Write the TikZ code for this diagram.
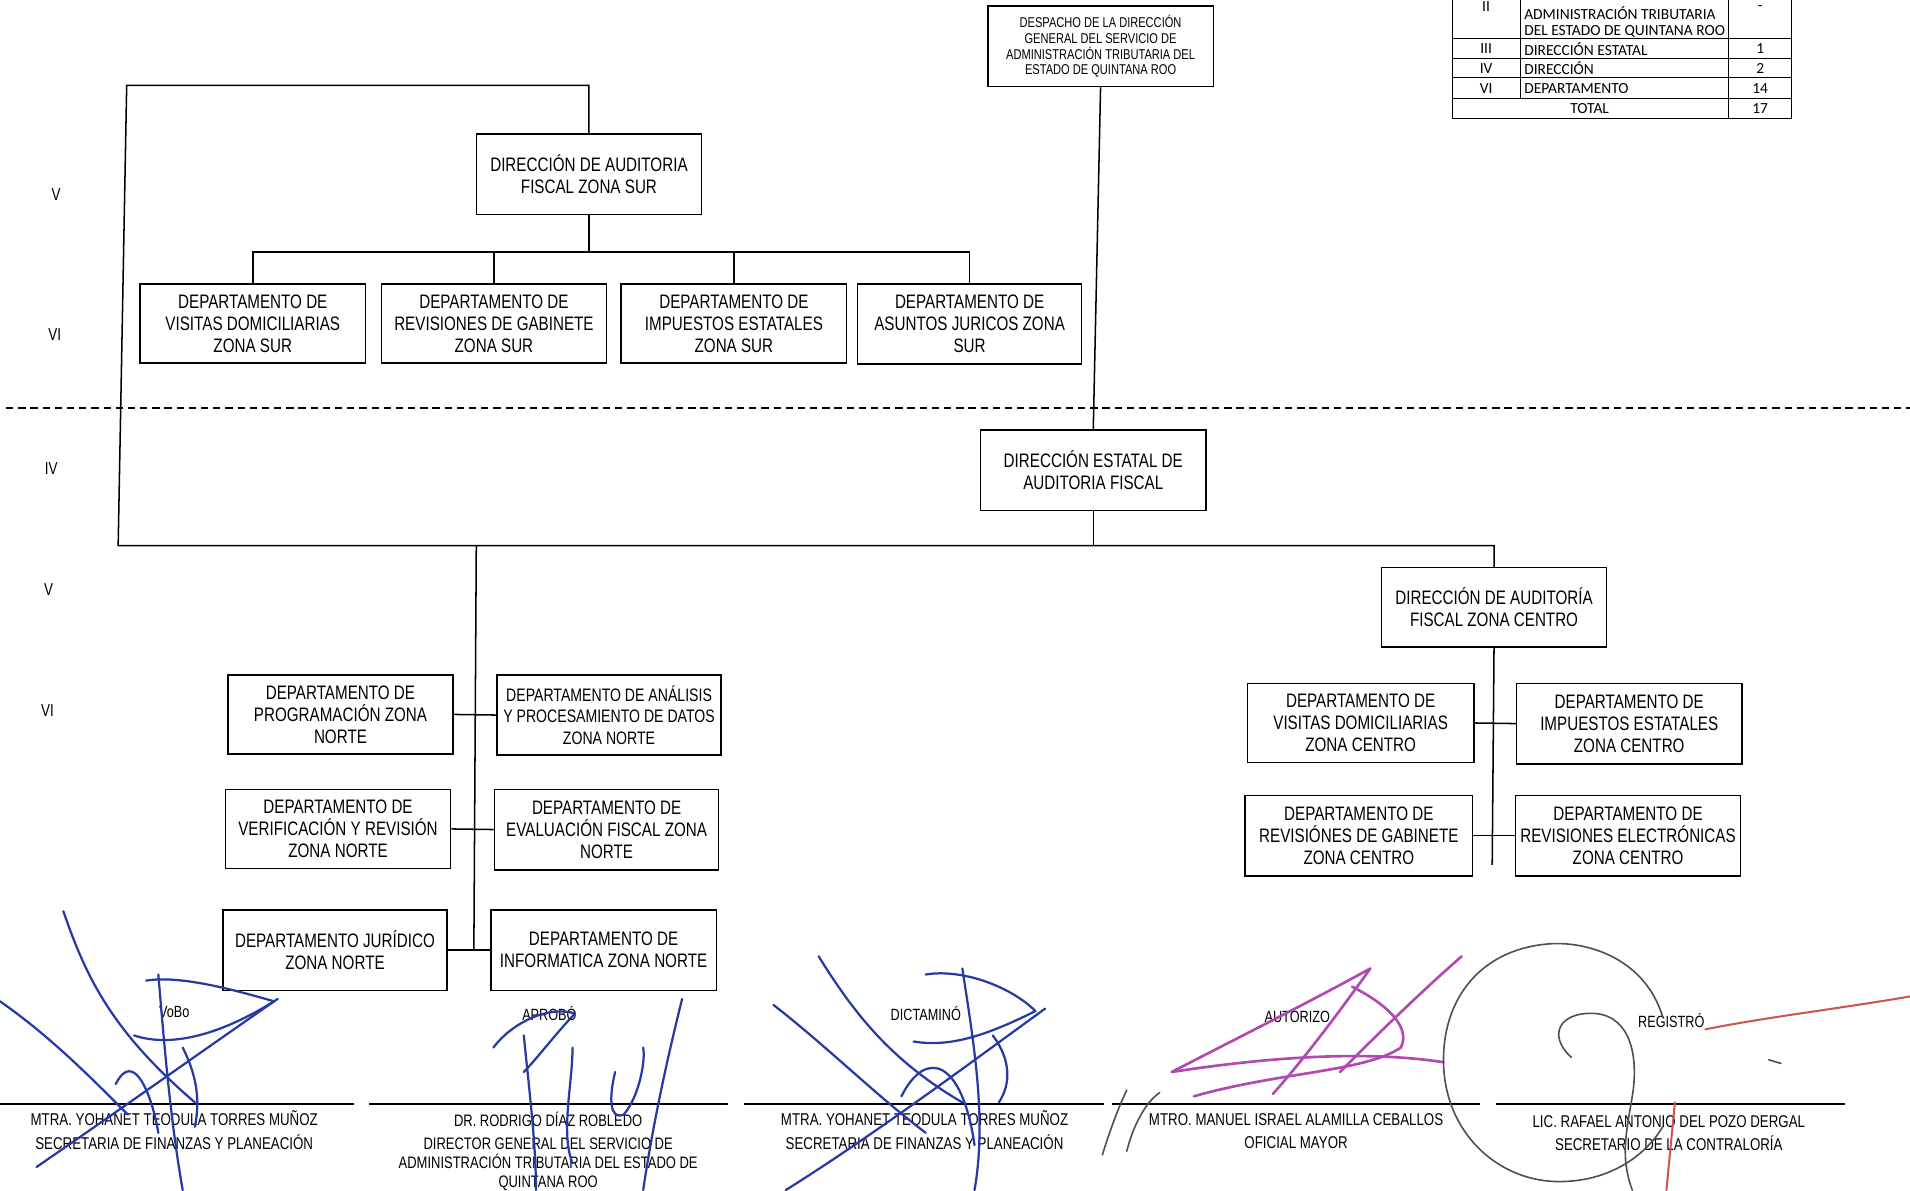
\documentclass[tikz,border=0pt]{standalone}
\usepackage{fontspec}
\setmainfont{Liberation Sans}[FakeStretch=0.78]
\newfontfamily\tabfont{Carlito}
\definecolor{sigblue}{RGB}{38,58,165}
\definecolor{sigmag}{RGB}{178,72,178}
\definecolor{siggray}{RGB}{80,80,80}
\definecolor{sigred}{RGB}{205,85,75}
\newcommand\bx[6]{\node[box, minimum width={(#4-#2)*0.6pt}, minimum height={(#5-#3)*0.6pt}] (#1) at ({(#2+#4)/2},{(#3+#5)/2}) {#6};}
\begin{document}
\begin{tikzpicture}[x=0.6pt,y=-0.6pt,
  box/.style={draw, line width=0.75pt, inner sep=0pt, align=center, font=\fontsize{9.6}{10.8}\selectfont},
  conn/.style={line width=0.75pt},
  lvl/.style={font=\fontsize{8.5}{10}\selectfont},
  sigtxt/.style={font=\fontsize{8.4}{11.5}\selectfont, align=center},
  sigttl/.style={font=\fontsize{8}{9}\selectfont},
  tab/.style={line width=0.5pt},
  tabtxt/.style={font=\tabfont\fontsize{7.6}{8}\selectfont, inner sep=0pt},
  bl/.style={draw=sigblue, line width=1.1pt, line cap=round, line join=round},
  mg/.style={draw=sigmag, line width=1.3pt, line cap=round, line join=round},
  gy/.style={draw=siggray, line width=0.8pt, line cap=round, line join=round},
  rd/.style={draw=sigred, line width=1pt, line cap=round, line join=round}]
\useasboundingbox (0,0) rectangle (1568,977);

% ---------- table ----------
\draw[tab] (1192,-20) -- (1192,97) -- (1471,97) -- (1471,-20);
\foreach \yy in {32,48,64,81} \draw[tab] (1192,\yy) -- (1471,\yy);
\draw[tab] (1248,-20) -- (1248,81);
\draw[tab] (1419,-20) -- (1419,97);
\node[tabtxt] (t2a) at (1220,5) {II};
\node[tabtxt] (t2c) at (1445,7) {-};
\node[tabtxt, anchor=west] (t2b) at (1251,11) {ADMINISTRACIÓN TRIBUTARIA};
\node[tabtxt, anchor=west] (t2d) at (1251,26) {DEL ESTADO DE QUINTANA ROO};
\node[tabtxt] (t3a) at (1220,40) {III};
\node[tabtxt, anchor=west] (t3b) at (1251,40) {DIRECCIÓN ESTATAL};
\node[tabtxt] (t3c) at (1445,40) {1};
\node[tabtxt] (t4a) at (1220,56) {IV};
\node[tabtxt, anchor=west] (t4b) at (1251,56) {DIRECCIÓN};
\node[tabtxt] (t4c) at (1445,56) {2};
\node[tabtxt] (t5a) at (1220,72.5) {VI};
\node[tabtxt, anchor=west] (t5b) at (1251,72.5) {DEPARTAMENTO};
\node[tabtxt] (t5c) at (1445,72.5) {14};
\node[tabtxt] (t6a) at (1305,89) {TOTAL};
\node[tabtxt] (t6c) at (1445,89) {17};

% ---------- level labels ----------
\node[lvl] (l1) at (46,160) {V};
\node[lvl] (l2) at (45,275) {VI};
\node[lvl] (l3) at (42,385) {IV};
\node[lvl] (l4) at (40,484) {V};
\node[lvl] (l5) at (39,583) {VI};

% ---------- dashed separator ----------
\draw[line width=0.7pt, dash pattern=on 3.6pt off 2.4pt] (5,335) -- (1568,335);

% ---------- boxes ----------
\node[draw, line width=0.75pt, inner sep=0pt, align=center, font=\fontsize{7}{7.8}\selectfont,
      minimum width={185*0.6pt}, minimum height={66*0.6pt}] (desp) at (903.5,38)
  {DESPACHO DE LA DIRECCIÓN\\GENERAL DEL SERVICIO DE\\ADMINISTRACIÓN TRIBUTARIA DEL\\ESTADO DE QUINTANA ROO};

\bx{sur}{391}{110}{576}{176}{DIRECCIÓN DE AUDITORIA\\FISCAL ZONA SUR}
\bx{s1}{115}{233}{300}{298}{DEPARTAMENTO DE\\VISITAS DOMICILIARIAS\\ZONA SUR}
\bx{s2}{313}{233}{498}{298}{DEPARTAMENTO DE\\REVISIONES DE GABINETE\\ZONA SUR}
\bx{s3}{510}{233}{695}{298}{DEPARTAMENTO DE\\IMPUESTOS ESTATALES\\ZONA SUR}
\bx{s4}{704}{233}{888}{299}{DEPARTAMENTO DE\\ASUNTOS JURICOS ZONA\\SUR}

\bx{est}{805}{353}{990}{419}{DIRECCIÓN ESTATAL DE\\AUDITORIA FISCAL}
\bx{cen}{1134}{466}{1319}{531}{DIRECCIÓN DE AUDITORÍA\\FISCAL ZONA CENTRO}

\bx{c1}{1024}{561}{1210}{626}{DEPARTAMENTO DE\\VISITAS DOMICILIARIAS\\ZONA CENTRO}
\bx{c2}{1245}{561}{1430}{627}{DEPARTAMENTO DE\\IMPUESTOS ESTATALES\\ZONA CENTRO}
\bx{c3}{1022}{653}{1209}{719}{DEPARTAMENTO DE\\REVISIÓNES DE GABINETE\\ZONA CENTRO}
\bx{c4}{1244}{653}{1429}{719}{DEPARTAMENTO DE\\REVISIONES ELECTRÓNICAS\\ZONA CENTRO}

\bx{n1}{187}{554}{372}{619}{DEPARTAMENTO DE\\PROGRAMACIÓN ZONA\\NORTE}
\node[box, font=\fontsize{8.9}{10.5}\selectfont, minimum width={184*0.6pt}, minimum height={66*0.6pt}] (n2) at (500,587)
  {DEPARTAMENTO DE ANÁLISIS\\Y PROCESAMIENTO DE DATOS\\ZONA NORTE};
\bx{n3}{185}{648}{370}{713}{DEPARTAMENTO DE\\VERIFICACIÓN Y REVISIÓN\\ZONA NORTE}
\bx{n4}{406}{648}{590}{714}{DEPARTAMENTO DE\\EVALUACIÓN FISCAL ZONA\\NORTE}
\bx{n5}{183}{747}{367}{813}{DEPARTAMENTO JURÍDICO\\ZONA NORTE}
\bx{n6}{403}{747}{588}{813}{DEPARTAMENTO DE\\INFORMATICA ZONA NORTE}

% ---------- connectors ----------
\coordinate (busS) at (483.5,207);
\draw[conn] (sur.south) -- (busS);
\draw[conn] (s1.north) |- (busS);
\draw[conn] (s4.north) |- (busS);
\draw[conn] (s2.north) -- (s2.north |- busS);
\draw[conn] (s3.north) -- (s3.north |- busS);

\coordinate (lt) at (104,70);
\coordinate (lb) at (97,448);
\draw[conn] (sur.north) |- (lt) -- (lb) -| (cen.north);
\draw[conn] (desp.south) -- (est.north);
\draw[conn] (est.south) -- (est.south |- lb);

\coordinate (nend) at (389,780);
\draw[conn] (lb -| 391,0) -- (nend);
\draw[conn] (n1.east) -- (n2.west);
\draw[conn] (n3.east) -- (n4.west);
\draw[conn] (n5.east) -- (n6.west);

\coordinate (cend) at (1225,710);
\draw[conn] (cen.south) -- (cend);
\draw[conn] (c1.east) -- (c2.west);
\draw[conn] (c3.east) -- (c4.west);

% ---------- signature block ----------
\foreach \a/\b in {0/291, 303/598, 611/906, 913/1215, 1228/1515}
  \draw[line width=1.1pt] (\a,906) -- (\b,906);

\node[sigttl] (v1) at (143,831) {VoBo};
\node[sigttl] (v2) at (451,832) {APROBÓ};
\node[sigttl] (v3) at (760,832) {DICTAMINÓ};
\node[sigttl] (v4) at (1065,835) {AUTORIZO};
\node[sigttl] (v5) at (1372,838) {REGISTRÓ};

\node[sigtxt, anchor=north] (p1) at (143,906) {MTRA. YOHANET TEODULA TORRES MUÑOZ\\SECRETARIA DE FINANZAS Y PLANEACIÓN};
\node[sigtxt, anchor=north, font=\fontsize{8.2}{9.4}\selectfont] (p2) at (450,907) {DR. RODRIGO DÍAZ ROBLEDO\\[1.8pt]DIRECTOR GENERAL DEL SERVICIO DE\\ADMINISTRACIÓN TRIBUTARIA DEL ESTADO DE\\QUINTANA ROO};
\node[sigtxt, anchor=north] (p3) at (759,906) {MTRA. YOHANET TEODULA TORRES MUÑOZ\\SECRETARIA DE FINANZAS Y PLANEACIÓN};
\node[sigtxt, anchor=north] (p4) at (1064,908) {MTRO. MANUEL ISRAEL ALAMILLA CEBALLOS\\OFICIAL MAYOR};
\node[sigtxt, anchor=north] (p5) at (1370,910) {LIC. RAFAEL ANTONIO DEL POZO DERGAL\\SECRETARIO DE LA CONTRALORÍA};

% ---------- handwritten signatures (approximate) ----------
% 1
\draw[bl] (52,748) .. controls (70,800) and (90,845) .. (160,905);
\draw[bl] (0,822) .. controls (40,850) and (70,880) .. (105,915);
\draw[bl] (30,958) .. controls (100,910) and (170,860) .. (228,820);
\draw[bl] (120,805) .. controls (150,800) and (200,815) .. (225,822) .. controls (180,850) and (140,860) .. (110,850);
\draw[bl] (130,800) .. controls (135,860) and (140,920) .. (150,977);
\draw[bl] (95,890) .. controls (110,860) and (125,900) .. (130,930);
\draw[bl] (150,860) .. controls (160,880) and (165,900) .. (160,925);
% 2
\draw[bl] (405,860) .. controls (420,840) and (450,825) .. (472,832) .. controls (455,850) and (440,870) .. (430,880);
\draw[bl] (430,850) .. controls (435,900) and (440,940) .. (440,977);
\draw[bl] (470,860) .. controls (470,890) and (460,930) .. (470,955);
\draw[bl] (505,880) .. controls (500,900) and (500,920) .. (512,915) .. controls (525,900) and (530,870) .. (528,860);
\draw[bl] (560,820) .. controls (545,880) and (535,930) .. (528,977);
% 3
\draw[bl] (672,785) .. controls (700,830) and (730,870) .. (790,905);
\draw[bl] (635,825) .. controls (680,860) and (720,900) .. (760,930);
\draw[bl] (645,977) .. controls (720,930) and (800,870) .. (858,828);
\draw[bl] (760,800) .. controls (790,795) and (830,810) .. (850,830) .. controls (810,850) and (780,860) .. (750,855);
\draw[bl] (790,795) .. controls (800,860) and (810,920) .. (800,977);
\draw[bl] (740,900) .. controls (760,860) and (790,870) .. (800,940);
\draw[bl] (815,850) .. controls (830,870) and (830,890) .. (820,905);
% 4
\draw[mg] (962,880) .. controls (1020,850) and (1080,820) .. (1125,795) .. controls (1100,830) and (1070,870) .. (1045,898);
\draw[mg] (1200,785) .. controls (1160,820) and (1120,860) .. (1100,880);
\draw[mg] (962,880) .. controls (1040,868) and (1120,862) .. (1185,872);
\draw[mg] (980,900) .. controls (1050,880) and (1120,880) .. (1150,860) .. controls (1160,840) and (1130,820) .. (1110,810);
\draw[gy] (905,948) .. controls (912,925) and (920,905) .. (925,895);
\draw[gy] (925,945) .. controls (930,925) and (940,905) .. (952,897);
% 5
\draw[gy] (1365,835) .. controls (1350,785) and (1300,772) .. (1270,775) .. controls (1215,780) and (1185,820) .. (1185,870) .. controls (1185,930) and (1230,970) .. (1280,970) .. controls (1320,970) and (1350,950) .. (1365,925);
\draw[gy] (1290,868) .. controls (1270,850) and (1280,830) .. (1310,832) .. controls (1340,835) and (1345,870) .. (1340,900) .. controls (1335,930) and (1330,950) .. (1340,977);
\draw[rd] (1400,845) .. controls (1450,835) and (1510,828) .. (1568,818);
\draw[rd] (1375,905) -- (1368,977);
\draw[gy] (1452,870) -- (1462,873);
\end{tikzpicture}
\end{document}
